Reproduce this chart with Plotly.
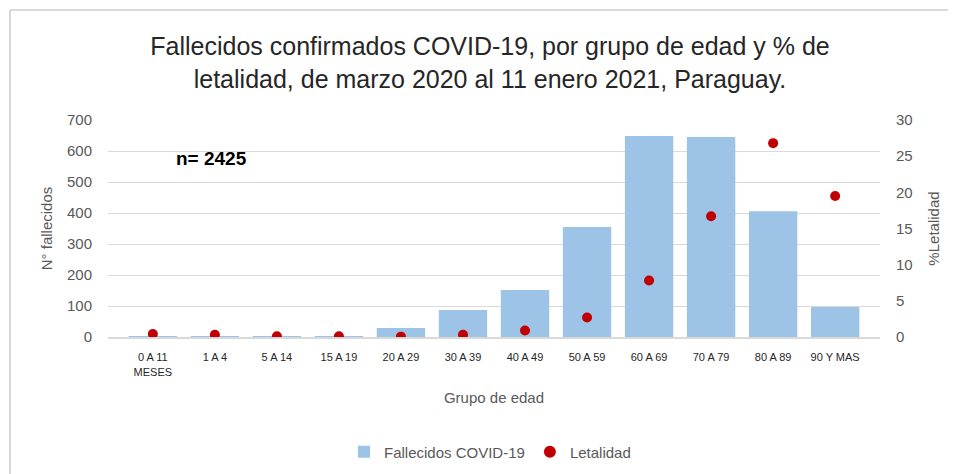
import plotly.graph_objects as go

categories = ["0 A 11<br>MESES", "1 A 4", "5 A 14", "15 A 19", "20 A 29", "30 A 39",
              "40 A 49", "50 A 59", "60 A 69", "70 A 79", "80 A 89", "90 Y MAS"]
fallecidos = [2, 1, 1, 2, 29, 87, 152, 355, 648, 645, 406, 97]
letalidad = [0.4, 0.3, 0.1, 0.1, 0.05, 0.3, 0.9, 2.7, 7.8, 16.7, 26.8, 19.5]
left_ticks = [0, 100, 200, 300, 400, 500, 600, 700]
right_ticks = [0, 5, 10, 15, 20, 25, 30]

OFF = 8  # page body margin
W, H = 956, 474
L, R, T, B = 100, 84, 112, 145
pw, ph = W - L - R, H - T - B

def px(x):
    return (x - OFF - L) / pw

def py(y):
    return (H - B - (y - OFF)) / ph

grid = "#d9d9d9"
FONT = "Liberation Sans, Arial, sans-serif"
tick_font = dict(family=FONT, size=15, color="#595959")

fig = go.Figure()
fig.add_trace(go.Bar(
    x=categories, y=fallecidos, name="Fallecidos COVID-19",
    marker=dict(color="#9dc3e6", line=dict(width=0)), width=0.78,
))
fig.add_trace(go.Scatter(
    x=categories, y=letalidad, name="Letalidad", mode="markers",
    marker=dict(color="#c00000", size=10), yaxis="y2",
))

fig.update_layout(
    width=W, height=H,
    margin=dict(l=L, r=R, t=T, b=B, autoexpand=False),
    paper_bgcolor="white", plot_bgcolor="white",
    title=dict(
        text="Fallecidos confirmados COVID-19, por grupo de edad y % de<br>letalidad, de marzo 2020 al 11 enero 2021, Paraguay.",
        x=(490 - OFF) / W, xanchor="center", xref="container", yref="container",
        y=1 - 47 / H, yanchor="top",
        font=dict(family=FONT, size=25, color="#262626"),
    ),
    xaxis=dict(
        type="category", showgrid=False, showline=True, linecolor=grid, linewidth=2,
        layer="above traces", automargin=False,
        tickfont=dict(family=FONT, size=11, color="#262626"),
        ticks="", ticklabelstandoff=9,
        title=dict(text="Grupo de edad", standoff=16,
                   font=dict(family=FONT, size=15, color="#595959")),
    ),
    yaxis=dict(
        range=[0, 700], tickvals=left_ticks, showgrid=True, gridcolor=grid, gridwidth=1,
        zeroline=False, tickfont=tick_font, ticks="", ticklabelstandoff=15, automargin=False,
        title=dict(text="N° fallecidos", standoff=10,
                   font=dict(family=FONT, size=15, color="#595959")),
    ),
    yaxis2=dict(
        range=[0, 30], tickvals=right_ticks, overlaying="y", side="right", showgrid=False,
        zeroline=False, tickfont=tick_font, ticks="", ticklabelstandoff=15, automargin=False,
        title=dict(text="%Letalidad", standoff=16,
                   font=dict(family=FONT, size=15, color="#595959")),
    ),
    legend=dict(
        orientation="h", x=px(490), xanchor="center", y=py(452), yanchor="middle",
        font=dict(family=FONT, size=15, color="#595959"),
        itemsizing="constant", traceorder="normal",
    ),
    annotations=[dict(
        text="<b>n= 2425</b>", x=px(211), y=py(158), xref="paper", yref="paper",
        showarrow=False, xanchor="center", yanchor="middle",
        font=dict(family=FONT, size=19, color="#000000"),
    )],
    shapes=[
        dict(type="line", xref="paper", yref="paper",
             x0=px(10), x1=px(10), y0=py(474), y1=py(10),
             line=dict(color="#d9d9d9", width=2), layer="below"),
        dict(type="line", xref="paper", yref="paper",
             x0=px(10), x1=px(956), y0=py(10), y1=py(10),
             line=dict(color="#d9d9d9", width=2), layer="below"),
    ],
)

fig.write_html("out.html")
